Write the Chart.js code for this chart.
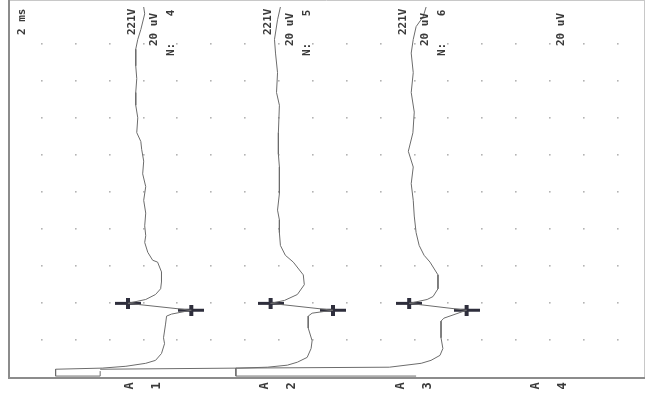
<!DOCTYPE html>
<html>
<head>
<meta charset="utf-8">
<script src="https://cdn.jsdelivr.net/npm/chart.js"></script>
<style>
  html, body { margin: 0; padding: 0; background: #fff; overflow: hidden; }
  canvas { display: block; }
</style>
</head>
<body>
<canvas id="emg" width="652" height="396"></canvas>
<script>
// time runs bottom -> top (ms), amplitude left -> right (uV), 20 uV per division
const CHANNEL_OFFSETS = [80, 160, 240, 320];
const CHANNEL_NAMES = ['1', '2', '3', '4'];
const SWEEP_COUNTS = [4, 5, 6];
const GAIN_LABEL = '221V';
const SENS_LABEL = '20 uV';
const TIME_LABEL = '2 ms';

// trace 1 (times in ms, amplitude relative to the channel baseline in uV)
const times1 = [20.0, 19.63, 18.78, 18.25, 17.72, 16.82, 16.13, 15.38, 14.69, 14.01,
  13.21, 12.73, 12.31, 11.67, 10.98, 10.29, 9.55, 8.86, 8.17, 7.64,
  7.27, 6.74, 6.31, 6.21, 5.68, 5.15, 4.77, 4.46, 4.19, 4.03,
  3.98, 3.61, 3.40, 3.29, 2.86, 2.12, 1.80, 1.27, 0.90, 0.74,
  0.58, 0.48, 0.42, 0.05, 0.05, 0.32];
const amps1 = [0.1, 0.7, -1.6, -3.4, -4.6, -4.6, -4.0, -4.6, -4.6, -3.4,
  -4.0, -1.6, -1.1, 0.1, -0.5, 1.3, 0.1, 1.3, 0.7, 1.3,
  0.7, 2.5, 5.4, 8.3, 10.6, 10.6, 10.1, 7.1, 1.3, -6.9,
  -9.2, 28.2, 16.5, 13.6, 13.0, 11.8, 12.4, 10.6, 7.1, 1.3,
  -10.4, -24.4, -51.9, -51.9, -25.6, -25.6];

// trace 2
const times2 = [20.0, 19.31, 18.25, 17.51, 16.45, 15.38, 14.69, 13.21, 12.04, 11.35,
  9.92, 9.02, 8.49, 7.80, 7.11, 6.58, 6.21, 5.52, 4.99, 4.46,
  4.14, 3.98, 3.61, 3.45, 3.29, 2.65, 1.96, 1.54, 1.06, 0.80,
  0.64, 0.53, 0.48, 0.42];
const amps2 = [0.8, -0.9, -2.7, -2.1, -0.9, -1.5, 0.2, -0.4, -0.4, 0.2,
  0.2, -0.9, 0.2, 0.2, 0.8, 3.7, 8.4, 14.3, 14.9, 10.8,
  3.2, -5.0, 31.8, 19.5, 17.2, 17.2, 19.5, 18.9, 16.6, 10.8,
  4.9, -6.8, -24.3, -105.6];

// trace 3
const times3 = [20.0, 19.47, 18.94, 18.25, 17.51, 16.45, 15.38, 14.32, 13.2, 12.2,
  11.35, 10.45, 9.55, 8.70, 7.80, 7.11, 6.58, 6.21, 5.52, 4.77,
  4.35, 4.19, 3.98, 3.61, 3.18, 3.02, 2.12, 1.54, 1.17, 0.90,
  0.74, 0.53, 0.48, 0.05, 0.05];
const amps3 = [6.8, 5.0, 0.9, -0.8, -2.0, -0.8, -2.0, -0.2, -1.0, -3.7,
  -0.8, -2.0, -0.8, -0.2, 0.9, 2.7, 5.6, 9.1, 13.8, 13.8,
  10.9, 7.4, -3.2, 30.7, 17.3, 15.6, 15.6, 16.7, 15.0, 9.7,
  3.9, -14.9, -105.5, -105.5, 0.9];

// cursors (negative peak, positive peak)
const cursorTimes = [3.98, 3.61];
const cursorAmps1 = [-9.2, 28.2];
const cursorAmps2 = [-5.0, 31.8];
const cursorAmps3 = [-3.2, 30.7];

function toPoints(times, amps, offset) {
  return times.map((t, i) => ({ x: amps[i] + offset, y: t }));
}

function makeCursor() {
  const c = document.createElement('canvas');
  c.width = 26;
  c.height = 11;
  const g = c.getContext('2d');
  g.fillStyle = '#2e2e3c';
  g.fillRect(0, 4, 26, 3);
  g.fillRect(11, 0, 4, 11);
  return c;
}
const cursorImg = makeCursor();

function traceSet(times, amps, k) {
  return {
    data: toPoints(times, amps, CHANNEL_OFFSETS[k]),
    showLine: true,
    borderColor: '#6c6c6c',
    borderWidth: 1,
    pointRadius: 0,
    tension: 0
  };
}

function cursorSet(amps, k) {
  return {
    data: toPoints(cursorTimes, amps, CHANNEL_OFFSETS[k]),
    showLine: false,
    pointStyle: cursorImg,
    pointRadius: 6
  };
}

function rotText(ctx, text, x, y, align) {
  ctx.save();
  ctx.translate(x, y);
  ctx.rotate(-Math.PI / 2);
  ctx.textAlign = align;
  ctx.textBaseline = 'middle';
  ctx.fillText(text, 0, 0);
  ctx.restore();
}

const gridAndFrame = {
  id: 'gridAndFrame',
  beforeDatasetsDraw(chart) {
    const { ctx, chartArea: a, scales: { x, y } } = chart;
    ctx.save();
    ctx.fillStyle = '#b4b4b4';
    for (let v = 20; v < 376; v += 20) {
      for (let t = 2; t < 20; t += 2) {
        ctx.fillRect(Math.round(x.getPixelForValue(v)) - 1, Math.round(y.getPixelForValue(t)) - 1, 1.6, 1.6);
      }
    }
    ctx.lineWidth = 1;
    ctx.strokeStyle = '#c8c8c8';
    ctx.beginPath();
    ctx.moveTo(a.left, 0.5); ctx.lineTo(a.right, 0.5);
    ctx.moveTo(a.right - 0.5, 0); ctx.lineTo(a.right - 0.5, a.bottom);
    ctx.stroke();
    ctx.lineWidth = 2;
    ctx.strokeStyle = '#8c8c8c';
    ctx.beginPath();
    ctx.moveTo(a.left + 1, 0); ctx.lineTo(a.left + 1, a.bottom + 1);
    ctx.lineTo(a.right, a.bottom + 1);
    ctx.stroke();
    ctx.restore();
  },
  afterDraw(chart) {
    const { ctx, scales: { x } } = chart;
    ctx.save();
    ctx.fillStyle = '#3a3a3a';
    ctx.font = 'bold 11px "DejaVu Sans Mono"';
    rotText(ctx, TIME_LABEL, 22, 35, 'left');
    CHANNEL_OFFSETS.forEach((off, k) => {
      const base = x.getPixelForValue(off);
      if (k < SWEEP_COUNTS.length) {
        rotText(ctx, GAIN_LABEL, base - 11, 35, 'left');
        rotText(ctx, 'N:    ' + SWEEP_COUNTS[k], base + 28, 56, 'left');
      }
      rotText(ctx, SENS_LABEL, base + 11, 46, 'left');
      ctx.font = 'bold 12px "DejaVu Sans Mono"';
      rotText(ctx, 'A', base - 14, 386, 'center');
      rotText(ctx, CHANNEL_NAMES[k], base + 13, 386, 'center');
      ctx.font = 'bold 11px "DejaVu Sans Mono"';
    });
    ctx.restore();
  }
};

new Chart(document.getElementById('emg'), {
  type: 'scatter',
  data: {
    datasets: [
      traceSet(times1, amps1, 0),
      traceSet(times2, amps2, 1),
      traceSet(times3, amps3, 2),
      cursorSet(cursorAmps1, 0),
      cursorSet(cursorAmps2, 1),
      cursorSet(cursorAmps3, 2)
    ]
  },
  options: {
    responsive: false,
    animation: false,
    layout: { padding: { left: 8, right: 1, top: 0, bottom: 19 } },
    plugins: { legend: { display: false }, tooltip: { enabled: false } },
    scales: {
      x: { type: 'linear', min: 0, max: 376, display: false },
      y: { type: 'linear', min: 0, max: 20, display: false }
    }
  },
  plugins: [gridAndFrame]
});
</script>
</body>
</html>
